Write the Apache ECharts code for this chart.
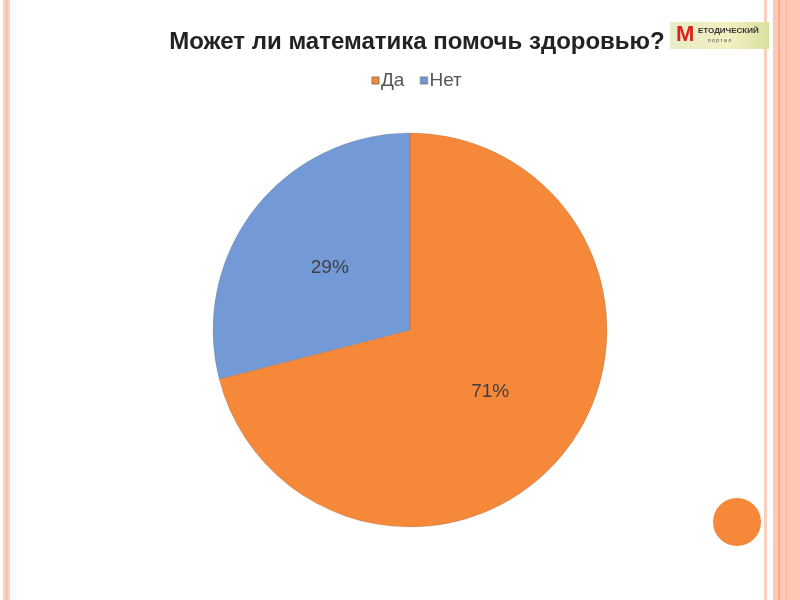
<!DOCTYPE html>
<html><head><meta charset="utf-8">
<script src="https://cdn.jsdelivr.net/npm/echarts@6/dist/echarts.min.js"></script>
<style>html,body{margin:0;padding:0;background:#fff}#c{width:800px;height:600px}</style>
</head><body><div id="c"></div>
<script>
const categories = ['Да', 'Нет'];
const values = [71, 29];
const colors = ['#f6883a', '#7399d7'];

const chart = echarts.init(document.getElementById('c'));
chart.setOption({
  backgroundColor: '#ffffff',
  animation: false,
  color: colors,
  title: {
    text: 'Может ли математика помочь здоровью?',
    left: 412, top: 25, textAlign: 'center',
    textStyle: {fontFamily: 'Liberation Sans, Arial', fontSize: 24, fontWeight: 'bold', color: '#222'}
  },
  legend: {
    data: categories, left: 366, top: 66,
    icon: 'rect', itemWidth: 7, itemHeight: 7, itemGap: 15,
    textStyle: {fontFamily: 'Liberation Sans, Arial', fontSize: 19, color: '#555', padding: [0,0,0,-3]}
  },
  graphic: [
    {type: 'rect', shape: {x: 3, y: 0, width: 7, height: 600}, style: {fill: '#fbd3c2'}},
    {type: 'rect', shape: {x: 5, y: 0, width: 3, height: 600}, style: {fill: '#f8c4ad'}},
    {type: 'rect', shape: {x: 764, y: 0, width: 3, height: 600}, style: {fill: '#fbcfbd'}},
    {type: 'rect', shape: {x: 773, y: 0, width: 27, height: 600}, style: {fill: '#fdc8b5'}},
    {type: 'rect', shape: {x: 778, y: 0, width: 2, height: 600}, style: {fill: '#f5ad8e'}},
    {type: 'rect', shape: {x: 786, y: 0, width: 1, height: 600}, style: {fill: '#f7b99f'}},
    {type: 'circle', shape: {cx: 737, cy: 522, r: 24}, style: {fill: '#f6883a'}},
    {type: 'rect', shape: {x: 670, y: 22, width: 99, height: 27},
      style: {fill: {type: 'linear', x: 0, y: 0, x2: 1, y2: 0,
        colorStops: [{offset: 0, color: '#e8ecc8'}, {offset: 0.6, color: '#f2efc0'}, {offset: 1, color: '#d8e0a0'}]}}},
    {type: 'text', left: 676, top: 24, style: {text: 'М', fontSize: 22, fontWeight: 'bold', fill: '#d8241c', fontFamily: 'Liberation Sans'}},
    {type: 'text', left: 698, top: 27, style: {text: 'ЕТОДИЧЕСКИЙ', fontSize: 8, fontWeight: 'bold', fill: '#333', fontFamily: 'Liberation Sans'}},
    {type: 'text', left: 708, top: 38, style: {text: 'п о р т а л', fontSize: 5, fill: '#444', fontFamily: 'Liberation Sans'}}
  ],
  series: [{
    type: 'pie',
    center: [410, 330],
    radius: 197,
    startAngle: 90,
    clockwise: true,
    data: categories.map((n, i) => ({name: n, value: values[i]})),
    itemStyle: {borderColor: 'rgba(90,90,90,0.35)', borderWidth: 0.6},
    label: {
      position: 'inside',
      formatter: p => Math.round(p.percent) + '%',
      fontFamily: 'Liberation Sans, Arial', fontSize: 19, color: '#404040'
    },
    labelLine: {show: false},
    emphasis: {disabled: true}
  }]
});
</script></body></html>
